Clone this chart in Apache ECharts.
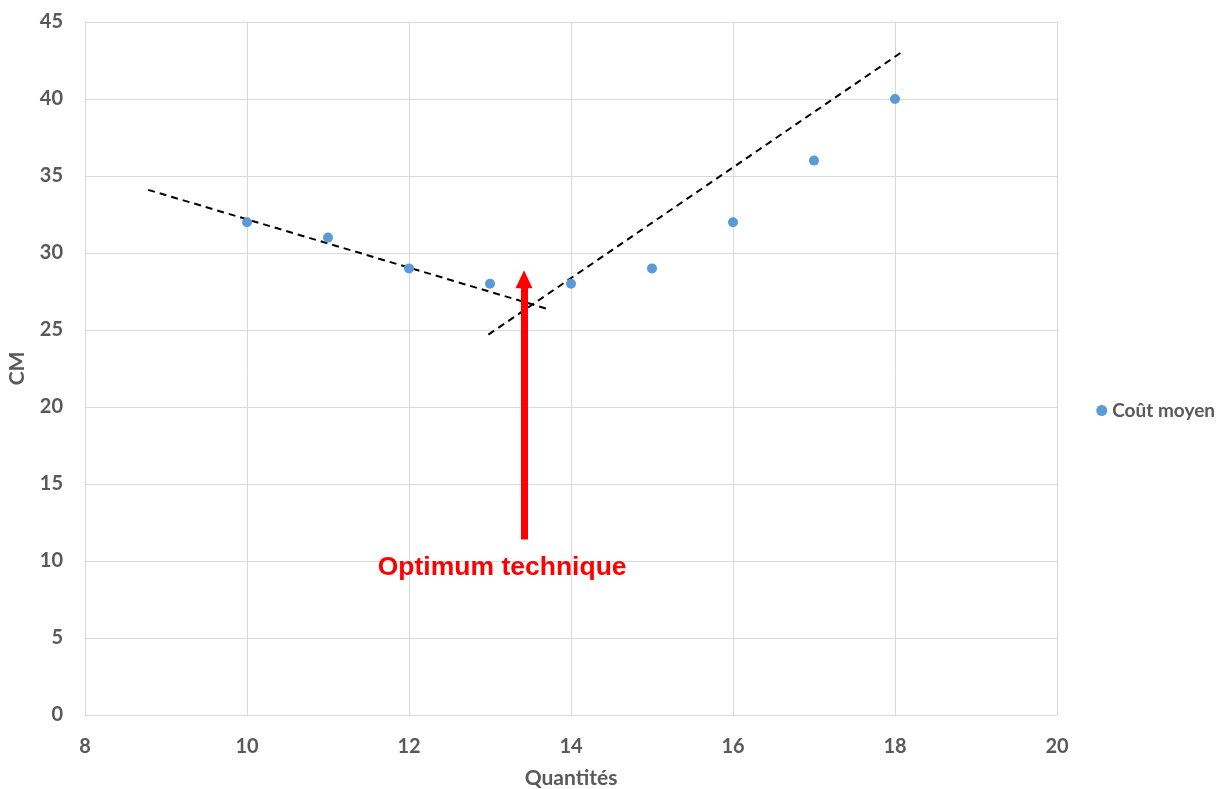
<!DOCTYPE html>
<html>
<head>
<meta charset="utf-8">
<style>
  html, body { margin: 0; padding: 0; background: #fff; overflow: hidden; }
  #chart { width: 1226px; height: 789px; }
</style>
<script src="https://cdn.jsdelivr.net/npm/echarts@6/dist/echarts.min.js"></script>
</head>
<body>
<div id="chart"></div>
<script>
// Average cost by quantity
const quantites = [10, 11, 12, 13, 14, 15, 16, 17, 18];
const coutMoyen = [32, 31, 29, 28, 28, 29, 32, 36, 40];

// Hand-drawn trend lines (decreasing and increasing branches)
const trendDown = [[8.78, 34.1], [13.69, 26.4]];
const trendUp = [[12.98, 24.7], [18.07, 43.0]];

// Arrow marking the technical optimum (end point = centre of the arrow head)
const arrowFrom = [13.42, 11.4];
const arrowTo = [13.42, 28.3];
const annotation = { text: 'Optimum technique', at: [13.15, 9.55] };

const chart = echarts.init(document.getElementById('chart'));
const grey = '#595959';
const gridColor = '#d9d9d9';
const fontFamily = 'Lato, "Open Sans", sans-serif';
const labelFont = { color: grey, fontSize: 20, fontWeight: 'bold', fontFamily: fontFamily };

const dashed = { color: '#000', width: 2, type: [7, 5] };

chart.setOption({
  animation: false,
  grid: { left: 85, right: 169, top: 22, bottom: 74, containLabel: false, outerBoundsMode: 'none' },
  legend: {
    data: ['Coût moyen'],
    orient: 'vertical',
    right: 6,
    top: 396,
    icon: 'circle',
    itemWidth: 11,
    itemHeight: 11,
    itemGap: 6,
    textStyle: { color: grey, fontSize: 19, fontWeight: 'bold', fontFamily: fontFamily }
  },
  xAxis: {
    type: 'value',
    min: 8, max: 20, interval: 2,
    name: 'Quantités',
    nameLocation: 'middle',
    nameGap: 53,
    nameTextStyle: Object.assign({}, labelFont, { fontSize: 21 }),
    axisLine: { show: true, lineStyle: { color: gridColor, width: 1 } },
    axisTick: { show: false },
    axisLabel: Object.assign({ margin: 22 }, labelFont),
    splitLine: { show: true, lineStyle: { color: gridColor, width: 1 } }
  },
  yAxis: {
    type: 'value',
    min: 0, max: 45, interval: 5,
    name: 'CM',
    nameLocation: 'middle',
    nameRotate: 90,
    nameGap: 57,
    nameTextStyle: Object.assign({}, labelFont, { fontSize: 21 }),
    axisLine: { show: true, lineStyle: { color: gridColor, width: 1 } },
    axisTick: { show: false },
    axisLabel: Object.assign({ margin: 22 }, labelFont),
    splitLine: { show: true, lineStyle: { color: gridColor, width: 1 } }
  },
  series: [
    {
      name: 'Coût moyen',
      type: 'scatter',
      symbolSize: 10,
      itemStyle: { color: '#5B9BD5', opacity: 1 },
      data: quantites.map((q, i) => [q, coutMoyen[i]]),
      z: 5
    },
    {
      name: 'trendDown',
      type: 'line',
      symbol: 'none',
      silent: true,
      lineStyle: dashed,
      data: trendDown,
      z: 4
    },
    {
      name: 'trendUp',
      type: 'line',
      symbol: 'none',
      silent: true,
      lineStyle: dashed,
      data: trendUp,
      z: 4
    },
    {
      name: 'optimum',
      type: 'scatter',
      symbolSize: 0,
      silent: true,
      itemStyle: { opacity: 1 },
      data: [annotation.at],
      label: {
        show: true,
        position: 'inside',
        formatter: annotation.text,
        color: '#ff0000',
        opacity: 1,
        fontSize: 26.5,
        fontWeight: 'bold',
        fontFamily: '"Liberation Sans", Arial, sans-serif'
      },
      markLine: {
        silent: true,
        symbol: ['none', 'triangle'],
        symbolSize: [17, 18],
        label: { show: false },
        lineStyle: { color: '#ff0000', width: 7, type: 'solid', opacity: 1 },
        data: [[{ coord: arrowFrom }, { coord: arrowTo }]]
      },
      z: 6
    }
  ]
});
</script>
</body>
</html>
